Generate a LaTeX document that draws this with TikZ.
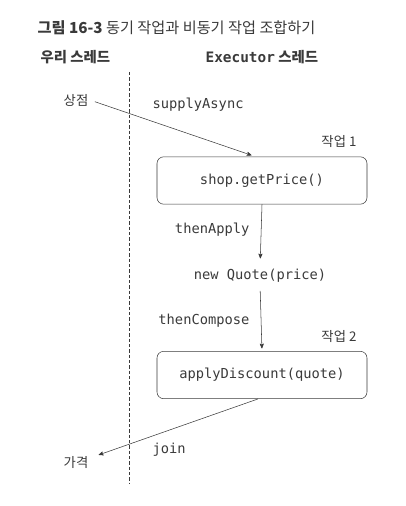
\documentclass[tikz,border=0pt]{standalone}
\usepackage{fontspec}
\setmainfont{Noto Sans CJK KR}
\setmonofont{DejaVu Sans Mono}
\usetikzlibrary{arrows}
\definecolor{ink}{HTML}{3A3A3A}

\tikzset{
  label/.style={text=ink, inner sep=1pt, font=\fontsize{10}{12}\selectfont},
  code/.style={text=ink, inner sep=1pt, font=\fontsize{10.3}{12}\selectfont\ttfamily},
  task/.style={draw=ink, text=ink, rounded corners=5pt, minimum width=157.5pt, minimum height=35.5pt, inner sep=0pt},
  flow/.style={ink, thin, ->, >=stealth'},
}

\begin{document}
\begin{tikzpicture}[x=0.75pt, y=-0.75pt]
\useasboundingbox (0,0) rectangle (405,506);
% title and thread headings
\node[label, anchor=west, font=\fontsize{11.4}{13}\selectfont] (title) at (36,28) {\textbf{그림 16-3} 동기 작업과 비동기 작업 조합하기};
\node[label, anchor=west, font=\fontsize{10.8}{12}\selectfont\bfseries] (ours) at (39,57) {우리 스레드};
\node[label, anchor=west, font=\fontsize{10.8}{12}\selectfont\bfseries] (exec) at (204,57) {{\ttfamily Executor} 스레드};
\coordinate (sepTop) at (129,72);
\coordinate (sepBot) at (129,484);
\draw[ink, dash pattern=on 2.5pt off 1.5pt] (sepTop) -- (sepBot);
% nodes
\node[label] (store) at (76,100) {상점};
\node[task] (getPrice) at (262,180.5) {\ttfamily\fontsize{10.3}{12}\selectfont shop.getPrice()};
\node[label, anchor=east] (task1) at (358,142) {작업 1};
\node[code] (quote) at (260,276) {new Quote(price)};
\node[task] (discount) at (262,375) {\ttfamily\fontsize{10.3}{12}\selectfont applyDiscount(quote)};
\node[label, anchor=east] (task2) at (358,337) {작업 2};
\node[label] (price) at (76,462) {가격};
% connectors
\draw[flow, shorten <=4pt, shorten >=3pt] (store.east) -- ([xshift=-5pt]getPrice.north);
\draw[flow, shorten >=7pt] (getPrice.south) -- (quote.north);
\draw[flow, shorten <=5pt, shorten >=2pt] (quote.south) -- (discount.north);
\draw[flow, shorten >=7pt] ([xshift=-3pt]discount.south) -- ([yshift=3pt]price.east);
% labels on connectors
\node[code, anchor=west] (supply) at (151,105) {supplyAsync};
\node[code, anchor=east] (apply) at (251,230) {thenApply};
\node[code, anchor=east] (compose) at (251,321) {thenCompose};
\node[code, anchor=west] (join) at (151,450) {join};
\end{tikzpicture}
\end{document}
